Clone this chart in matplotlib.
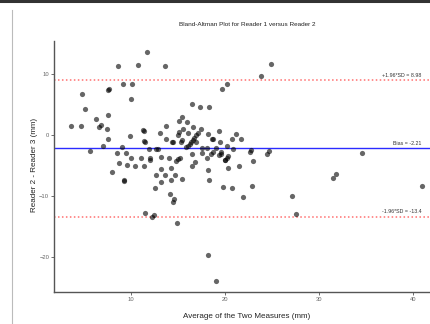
import matplotlib
matplotlib.use("Agg")
import matplotlib.pyplot as plt
from matplotlib.lines import Line2D

plt.rcParams['font.family'] = ['Liberation Sans', 'DejaVu Sans']

# Average of the two measures (x) and difference (y)
avg = [11.70, 8.62, 10.74, 13.61, 24.85, 23.85, 4.76, 7.59, 7.69, 9.15,
       10.11, 9.95, 19.72, 20.22, 16.48, 17.33, 18.31, 5.13, 3.66, 4.72,
       6.28, 7.58, 6.78, 6.57, 7.42, 11.33, 11.36, 15.47, 15.10, 15.98,
       13.72, 15.49, 16.61, 17.46, 19.35, 13.08, 15.05, 15.15, 16.06, 18.18,
       21.13, 20.70, 21.66, 18.71, 18.66, 19.49, 16.91, 13.67, 14.41, 14.44,
       15.28, 15.39, 11.41, 11.45, 9.89, 7.59, 7.06, 5.61, 9.01, 11.91,
       12.71, 12.89, 15.90, 16.06, 16.22, 16.38, 16.54, 16.69, 16.91, 17.12,
       17.51, 18.13, 19.00, 20.17, 20.87, 22.65, 22.78, 24.48, 24.70, 34.55,
       8.48, 9.52, 10.03, 11.09, 12.04, 11.99, 8.72, 9.54, 10.39, 11.41,
       7.95, 9.26, 9.29, 13.16, 14.07, 14.81, 14.99, 15.18, 13.22, 14.28,
       12.69, 13.61, 14.71, 13.22, 14.30, 15.37, 12.60, 14.14, 14.57, 14.50,
       16.48, 16.80, 16.51, 17.51, 18.50, 18.68, 18.11, 19.60, 19.35, 19.60,
       20.28, 20.17, 19.99, 20.02, 20.31, 21.51, 18.21, 18.32, 19.74, 20.70,
       21.93, 22.83, 22.93, 27.08, 31.50, 31.79, 40.89, 11.52, 12.28, 12.50,
       14.84, 27.53, 18.15, 19.06]
diff = [13.52, 11.33, 11.52, 11.33, 11.66, 9.64, 6.64, 7.34, 7.46, 8.33,
        8.28, 5.92, 7.43, 8.41, 5.02, 4.64, 4.61, 4.31, 1.44, 1.49,
        2.59, 3.20, 1.69, 1.20, 0.92, 0.79, 0.69, 2.89, 2.21, 2.05,
        1.52, 0.95, 1.20, 1.03, 0.62, 0.25, 0.05, 0.38, 0.30, 0.10,
        0.13, -0.69, -0.69, -0.61, -0.66, -1.13, -1.18, -0.72, -1.10, -1.15,
        -1.13, -0.90, -1.07, -1.11, -0.25, -0.74, -1.84, -2.66, -2.00, -2.25,
        -2.25, -2.30, -2.08, -1.77, -1.46, -1.15, -0.84, -0.52, -0.11, 0.30,
        -2.21, -2.21, -2.21, -1.79, -2.38, -2.77, -2.49, -3.15, -2.66, -2.98,
        -2.95, -2.95, -3.85, -3.85, -3.85, -4.21, -4.54, -4.90, -5.11, -5.11,
        -6.10, -7.44, -7.51, -3.69, -3.85, -4.34, -4.02, -3.75, -5.61, -5.36,
        -6.67, -6.67, -6.59, -7.66, -7.41, -7.28, -8.77, -9.66, -10.57, -10.97,
        -3.10, -4.41, -5.11, -3.03, -3.20, -2.87, -3.85, -2.77, -3.36, -3.15,
        -3.48, -3.75, -4.13, -4.21, -5.48, -5.11, -5.77, -7.41, -8.51, -8.67,
        -10.15, -8.39, -4.25, -9.98, -7.13, -6.48, -8.39, -12.90, -13.43, -13.10,
        -14.38, -13.03, -19.75, -23.92]

bias = -2.21
upper = 8.98
lower = -13.4
x_ticks = [10, 20, 30, 40]
y_ticks = [-20, -10, 0, 10]
title = "Bland-Altman Plot for Reader 1 versus Reader 2"
xlabel = "Average of the Two Measures (mm)"
ylabel = "Reader 2 - Reader 3 (mm)"

fig = plt.figure(figsize=(4.30, 3.24), dpi=100)
fig.patch.set_facecolor('white')
ax = fig.add_axes([54/430, 1 - 292/324, (440 - 54)/430, (292 - 41)/324])
ax.set_xlim(1.82, 42.84)
ax.set_ylim(-25.77, 15.38)

ax.scatter(avg, diff, s=14, color='black', alpha=0.6, linewidths=0, zorder=3)
ax.axhline(bias, color='#2b2bff', linewidth=1.0, zorder=2)
ax.axhline(upper, color='#ff6f6f', linewidth=1.1, linestyle=(0, (1, 1.6)), zorder=2)
ax.axhline(lower, color='#ff6f6f', linewidth=1.1, linestyle=(0, (1, 1.6)), zorder=2)

lab_x = 40.85
ax.text(lab_x, upper + 0.35, "+1.96*SD = %.2f" % upper, ha='right', va='bottom',
        fontsize=3.8, color='#333333')
ax.text(lab_x, bias + 0.35, "Bias = %.2f" % bias, ha='right', va='bottom',
        fontsize=3.8, color='#333333')
ax.text(lab_x, lower + 0.35, "-1.96*SD = %.1f" % lower, ha='right', va='bottom',
        fontsize=3.8, color='#333333')

for s in ['top', 'right']:
    ax.spines[s].set_visible(False)
for s in ['left', 'bottom']:
    ax.spines[s].set_color('#555555')
    ax.spines[s].set_linewidth(1.0)

ax.set_xticks(x_ticks)
ax.set_yticks(y_ticks)
ax.tick_params(axis='both', length=2, width=0.6, color='#555555',
               labelsize=4.2, labelcolor='#666666', pad=1.5)

fig.text(247/430, 1 - 24/324, title, ha='center', va='center', fontsize=4.6, color='#222222')
fig.text(247/430, 1 - 316/324, xlabel, ha='center', va='center', fontsize=5.8, color='#222222')
fig.text(35/430, 1 - 165/324, ylabel, ha='center', va='center', rotation=90,
         fontsize=5.8, color='#222222')

# screenshot frame elements
fig.add_artist(Line2D([0, 1], [1 - 1/324, 1 - 1/324], transform=fig.transFigure,
                      color='#333333', linewidth=2.2))
fig.add_artist(Line2D([11.5/430, 11.5/430], [0, 1 - 10/324], transform=fig.transFigure,
                      color='#bbbbbb', linewidth=0.8))

fig.savefig("out.png", dpi=100, facecolor='white')
